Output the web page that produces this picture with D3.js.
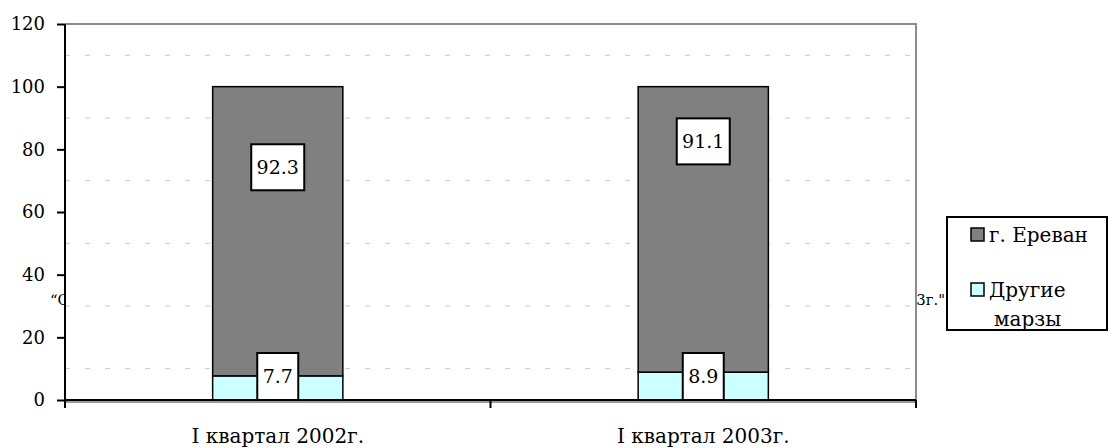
<!DOCTYPE html>
<html><head><meta charset="utf-8">
<script src="https://cdn.jsdelivr.net/npm/d3@7"></script>
<style>
html,body{margin:0;padding:0;background:#fff;}
svg{display:block;}
</style></head>
<body><svg id="c" width="1109" height="448"></svg>
<script>
const categories = ["I квартал 2002г.", "I квартал 2003г."];
const seriesNames = ["Другие марзы", "г. Ереван"];
const otherRegions = [7.7, 8.9];
const yerevan = [92.3, 91.1];
const yTicks = [0, 20, 40, 60, 80, 100, 120];
const gridValues = [10, 30, 50, 70, 90, 110];
const hiddenTitle = "“Структура розничного товарооборота по марзам Республики Армения в I квартале 2002г. и в I квартале 2003г.\"";

const FONT = '"DejaVu Serif", serif';
const svg = d3.select("#c");
const L = 65, R = 916, T = 24, B = 400;
const y = d3.scaleLinear().domain([0, 120]).range([B, T]);
const x = d3.scaleBand().domain(categories).range([L, R]).padding(0);
const barFrac = 0.306;
const colors = {"г. Ереван": "#808080", "Другие марзы": "#ccffff"};

// hidden caption behind plot area
svg.append("text").attr("x", 50).attr("y", 305)
  .attr("font-size", 15).attr("textLength", 895).attr("lengthAdjust", "spacingAndGlyphs")
  .text(hiddenTitle);

// plot area
svg.append("rect").attr("x", L).attr("y", T).attr("width", R - L).attr("height", B - T).attr("fill", "#fff");

// gridlines
svg.append("g").selectAll("line").data(gridValues).join("line")
  .attr("x1", L).attr("x2", R).attr("y1", d => y(d)).attr("y2", d => y(d))
  .attr("stroke", "#c8c8c8").attr("stroke-width", 1).attr("stroke-dasharray", "5,15");

// plot border top/right
svg.append("path").attr("d", `M${L},${T}H${R}V${B}`).attr("fill", "none")
  .attr("stroke", "#8c8c8c").attr("stroke-width", 2);

// stacked bars
const rows = categories.map((c, i) => ({c, other: otherRegions[i], yer: yerevan[i]}));
const stack = d3.stack().keys(["other", "yer"])(rows);
const keyName = {other: "Другие марзы", yer: "г. Ереван"};
const bw = x.bandwidth() * barFrac;
const bx = c => x(c) + (x.bandwidth() - bw) / 2;
stack.forEach(layer => {
  svg.append("g").selectAll("rect").data(layer).join("rect")
    .attr("x", d => bx(d.data.c)).attr("width", bw)
    .attr("y", d => y(d[1])).attr("height", d => y(d[0]) - y(d[1]))
    .attr("fill", colors[keyName[layer.key]])
    .attr("stroke", "#000").attr("stroke-width", 1.5);
});

// x axis line
svg.append("line").attr("x1", L).attr("x2", R).attr("y1", B + 2).attr("y2", B + 2)
  .attr("stroke", "#999").attr("stroke-width", 2);
svg.append("line").attr("x1", L).attr("x2", R).attr("y1", B).attr("y2", B)
  .attr("stroke", "#000").attr("stroke-width", 2);
const xEdges = [L].concat(categories.map(c => x(c) + x.bandwidth()));
svg.append("g").selectAll("line").data(xEdges).join("line")
  .attr("x1", d => d).attr("x2", d => d).attr("y1", B).attr("y2", B + 8)
  .attr("stroke", "#000").attr("stroke-width", 2);
const xa = svg.append("g").attr("transform", `translate(0,${B})`)
  .call(d3.axisBottom(x).tickSize(0).tickPadding(29));
xa.select(".domain").remove();
xa.selectAll("text").attr("font-size", 20).attr("fill", "#000");

// y axis
const ya = svg.append("g").attr("transform", `translate(${L},0)`)
  .call(d3.axisLeft(y).tickValues(yTicks).tickSize(8).tickPadding(12).tickFormat(d3.format("d")));
ya.select(".domain").attr("stroke", "#000").attr("stroke-width", 2).attr("d", `M0,${T}V${B + 8}`);
ya.selectAll(".tick line").attr("stroke", "#000").attr("stroke-width", 2);
ya.selectAll("text").attr("font-size", 18).attr("fill", "#000");

// data labels
function labelBox(cx, cy, txt, w, h) {
  const g = svg.append("g");
  g.append("rect").attr("x", cx - w / 2).attr("y", cy - h / 2).attr("width", w).attr("height", h)
    .attr("fill", "#fff").attr("stroke", "#000").attr("stroke-width", 2);
  g.append("text").attr("x", cx).attr("y", cy).attr("dy", "0.36em").attr("text-anchor", "middle")
    .attr("font-size", 19).text(txt);
}
const topOffsets = [-64, -88];
rows.forEach((r, i) => {
  const cx = x(r.c) + x.bandwidth() / 2;
  const midTop = y(r.other + r.yer / 2) + topOffsets[i];
  labelBox(cx, midTop, d3.format(".1f")(r.yer), 53, 46);
  labelBox(cx, B - 23.5, d3.format(".1f")(r.other), 41, 47);
});

// legend
const lg = svg.append("g");
lg.append("rect").attr("x", 947).attr("y", 217).attr("width", 160).attr("height", 113)
  .attr("fill", "#fff").attr("stroke", "#000").attr("stroke-width", 2);
const legendItems = ["г. Ереван", "Другие марзы"];
legendItems.forEach((n, i) => {
  const yy = 228 + i * 55;
  lg.append("rect").attr("x", 971).attr("y", yy).attr("width", 13).attr("height", 13)
    .attr("fill", colors[n]).attr("stroke", "#000").attr("stroke-width", 1.5);
  const words = n.split(" ");
  const t = lg.append("text").attr("x", 989).attr("y", yy + 14).attr("font-size", 20);
  if (i === 0) t.text(n);
  else {
    t.append("tspan").attr("x", 989).text(words[0]);
    t.append("tspan").attr("x", 994).attr("dy", 29).text(words[1]);
  }
});

svg.selectAll("text").style("font-family", FONT).style("fill", "#000");
</script></body></html>
